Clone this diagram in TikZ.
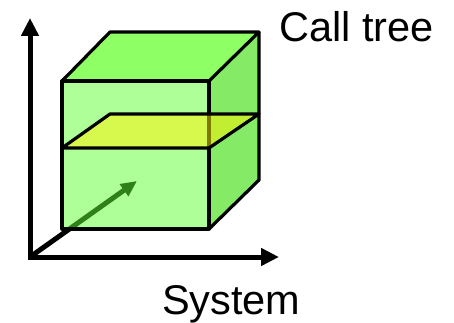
\documentclass[tikz,border=0pt]{standalone}
\usepackage{fontspec}
\setmainfont{Liberation Sans}
\usetikzlibrary{arrows.meta}
\definecolor{topgreen}{RGB}{143,255,102}
\definecolor{sidegreen}{RGB}{133,234,102}
\definecolor{frontgreen}{RGB}{96,255,51}
\tikzset{
  axis/.style={line width=5pt, -{Triangle[length=18pt,width=17pt]}},
  depth/.style={line width=5pt, -{Triangle[length=16pt,width=14pt]}},
  edge/.style={draw=black, line width=3.2pt, line join=round},
  slice/.style={fill=yellow, fill opacity=0.5},
  lbl/.style={font=\fontsize{41.5}{45}\selectfont, inner sep=0pt, anchor=base west}
}
\begin{document}
\begin{tikzpicture}[x=1pt, y=-1pt]
  \useasboundingbox (0,0) rectangle (454,323);
  % axes
  \coordinate (o) at (30,257);
  \coordinate (ytip) at (30,18);
  \coordinate (xtip) at (279,257);
  \coordinate (ztip) at (137,181);
  \draw[axis] ([yshift=-2.5pt]o) -- (ytip);
  \draw[axis] ([xshift=-2.5pt]o) -- (xtip);
  \draw[depth] (o) -- (ztip);
  % cube corners
  \coordinate (fbl) at (62,229);
  \coordinate (fbr) at (209,229);
  \coordinate (ftl) at (62,81);
  \coordinate (ftr) at (209,81);
  \coordinate (btl) at (110,32);
  \coordinate (btr) at (259,32);
  \coordinate (bbr) at (259,180);
  % faces
  \fill[topgreen] (ftl) -- (ftr) -- (btr) -- (btl) -- cycle;
  \fill[sidegreen] (ftr) -- (fbr) -- (bbr) -- (btr) -- cycle;
  \fill[frontgreen, fill opacity=0.5] (ftl) -- (ftr) -- (fbr) -- (fbl) -- cycle;
  \draw[edge] (ftl) -- (ftr) -- (fbr) -- (fbl) -- cycle;
  \draw[edge] (ftl) -- (btl) -- (btr) -- (ftr);
  \draw[edge] (btr) -- (bbr) -- (fbr);
  % cutting plane
  \coordinate (pfl) at (62,148);
  \coordinate (pfr) at (209,148);
  \coordinate (pbr) at (259,114);
  \coordinate (pbl) at (110,114);
  \fill[slice] (pfl) -- (pfr) -- (pbr) -- (pbl) -- cycle;
  \draw[edge] (pfl) -- (pfr) -- (pbr) -- (pbl) -- cycle;
  % labels
  \node[lbl] (calltree) at (279,42) {Call tree};
  \node[lbl] (system) at (162,314) {System};
\end{tikzpicture}
\end{document}
